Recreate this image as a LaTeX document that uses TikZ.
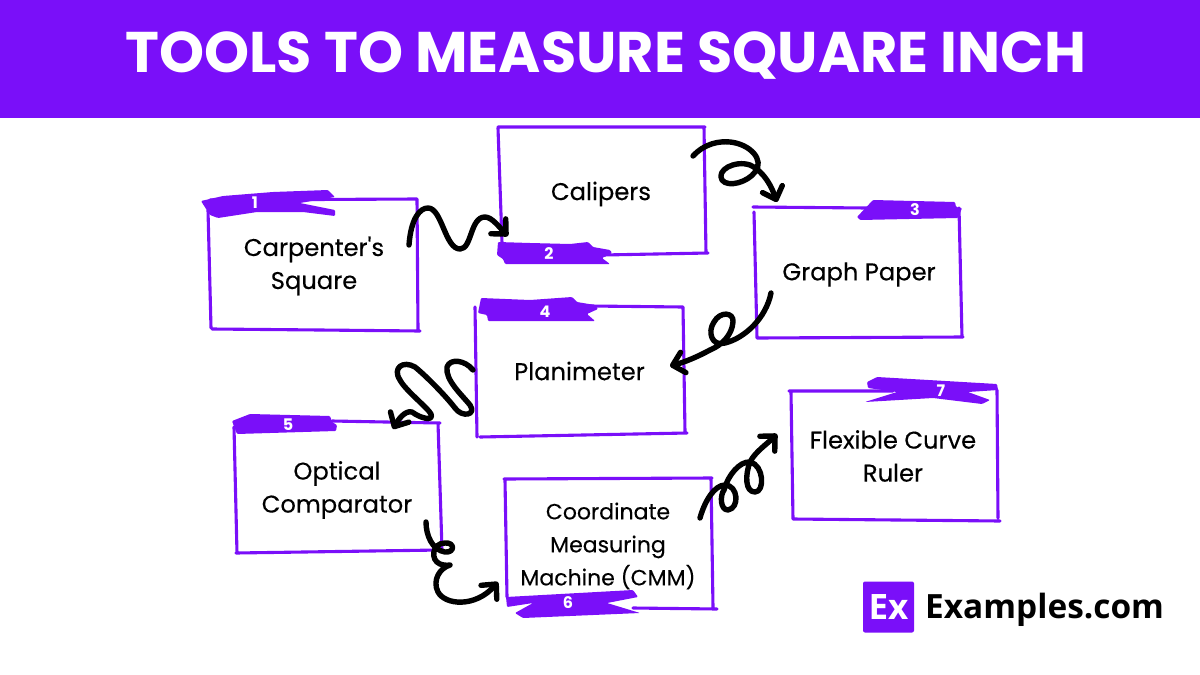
\documentclass[tikz,border=0pt]{standalone}
\usepackage{fontspec}
\setmainfont{Poppins}
\newfontfamily\boxfont{Poppins}[FakeBold=0.25]
\newfontfamily\logofont{Open Sans}
\usetikzlibrary{arrows.meta}
\definecolor{brand}{HTML}{7A0FF9}
\tikzset{
  steptext/.style={inner sep=0pt,align=center,font=\boxfont\fontsize{24.2}{33}\selectfont,text=black},
  sketch/.style={draw=brand,line width=3.1pt},
  brush/.style={fill=brand,rounded corners=1pt},
  stepnum/.style={text=white,font=\fontsize{16}{16}\selectfont\bfseries,inner sep=0pt},
  curl/.style={line width=5.4pt,-{Straight Barb[length=11pt,width=21pt,round]}},
}
\begin{document}
\begin{tikzpicture}[x=1pt,y=-1pt,line cap=round,line join=round]
\useasboundingbox (0,0) rectangle (1200,675);
\fill[brand] (0,0) rectangle (1200,118);
\node (title) at (606,56) [text=white,font=\fontsize{57.3}{58}\selectfont\bfseries,inner sep=0pt] {TOOLS TO MEASURE SQUARE INCH};
% box outlines
\draw[sketch] (210,200)--(417,199) (417,199)--(418,330) (212,329)--(320,330)--(420,331) (208,210)--(211,328);
\draw[sketch] (498,127)--(705,127) (704,127)--(706,253) (603,255)--(708,253) (498,128)--(502,243);
\draw[sketch] (753,207)--(867,208) (959,208)--(962,337) (757,338)--(963,337) (754,212)--(757,338);
\draw[sketch] (590,306)--(683,307) (683,307)--(685,432) (480,437)--(687,433) (475,307)--(477,437);
\draw[sketch] (332,421)--(440,423) (438,423)--(442,550) (236,553)--(440,550) (234,427)--(237,553);
\draw[sketch] (504,479)--(712,478) (711,478)--(713,607) (633,608)--(717,609) (505,480)--(507,597);
\draw[sketch] (789,391)--(893,391) (997,390)--(998,518) (793,519)--(1000,521) (791,392)--(793,519);
% labels
\node[steptext] (carpenter) at (314,266) {Carpenter's\\Square};
\node[steptext] (calipers) at (601,194) {Calipers};
\node[steptext] (graph) at (859,274.5) {Graph Paper};
\node[steptext] (planimeter) at (579.5,371) {Planimeter};
\node[steptext] (optical) at (337,490) {Optical\\Comparator};
\node[steptext,font=\boxfont\fontsize{22}{33}\selectfont] (cmm) at (608,546) {Coordinate\\Measuring\\Machine (CMM)};
\node[steptext] (ruler) at (893,456) {Flexible Curve\\Ruler};
% brush tabs
\fill[brush] (201,201)--(223,196)--(273,192)--(328,190)--(335,197)--(300,203)--(335,210)--(335,216)--(303,212)--(257,212)--(218,218)--(210,215)--cycle;
\fill[brush] (498,242)--(530,243)--(570,244)--(588,242)--(593,247)--(610,250)--(612,253)--(602,258)--(610,264)--(505,264)--(503,259)--(497,255)--cycle;
\fill[brush] (857,217)--(873,200)--(955,202)--(956,207)--(962,208)--(958,218)--(860,220)--cycle;
\fill[brush] (481,298)--(530,300)--(572,297)--(577,302)--(595,305)--(598,309)--(587,314)--(595,321)--(488,321)--(487,315)--(478,313)--(480,303)--cycle;
\fill[brush] (232,421)--(250,414)--(330,416)--(332,422)--(337,425)--(336,431)--(237,434)--cycle;
\fill[brush] (506,597)--(633,590)--(638,597)--(607,603)--(640,613)--(523,618)--(515,613)--(533,603)--(507,607)--cycle;
\fill[brush] (867,382)--(877,377)--(997,384)--(998,390)--(968,392)--(990,400)--(982,404)--(933,398)--(865,402)--(897,392)--(868,388)--cycle;
% numbers
\node[stepnum] (n1) at (255,203) {1};
\node[stepnum] (n2) at (549,254) {2};
\node[stepnum] (n3) at (915,210) {3};
\node[stepnum] (n4) at (545,312) {4};
\node[stepnum] (n5) at (288,425) {5};
\node[stepnum] (n6) at (568,603) {6};
\node[stepnum] (n7) at (941,391) {7};
% connectors
\coordinate (a1) at (409,245);
\coordinate (b1) at (508,236);
\coordinate (a2) at (693,156);
\coordinate (b2) at (777,202);
\coordinate (a3) at (771,293);
\coordinate (b3) at (670,366);
\coordinate (a4) at (473,370);
\coordinate (b4) at (393,429);
\coordinate (a5) at (426,522);
\coordinate (b5) at (498,582);
\coordinate (a6) at (700,518);
\coordinate (b6) at (777,434);
\draw[curl] (a1) .. controls (411,218) and (420,208) .. (428,208)
  .. controls (442,208) and (445,249) .. (460,249)
  .. controls (472,249) and (470,217) .. (485,217)
  .. controls (492,217) and (500,228) .. (b1);
\draw[curl] (a2) .. controls (705,143) and (720,141) .. (730,142)
  .. controls (750,144) and (765,160) .. (755,172)
  .. controls (748,182) and (728,188) .. (722,180)
  .. controls (716,170) and (735,160) .. (750,165)
  .. controls (765,172) and (772,188) .. (b2);
\draw[curl] (a3) .. controls (766,318) and (745,338) .. (725,343)
  .. controls (712,347) and (707,332) .. (714,322)
  .. controls (720,311) and (734,312) .. (733,322)
  .. controls (732,335) and (722,345) .. (710,350)
  .. controls (697,357) and (685,362) .. (b3);
\draw[curl] (a4) .. controls (465,360) and (450,358) .. (447,367)
  .. controls (445,380) and (462,395) .. (470,405)
  .. controls (477,415) and (462,418) .. (455,408)
  .. controls (445,395) and (425,375) .. (415,367)
  .. controls (403,360) and (392,368) .. (400,380)
  .. controls (405,390) and (428,408) .. (431,414)
  .. controls (434,422) and (420,418) .. (412,412)
  .. controls (405,410) and (398,420) .. (b4);
\draw[curl] (a5) .. controls (426,535) and (432,550) .. (445,552)
  .. controls (455,553) and (455,542) .. (445,543)
  .. controls (432,543) and (430,560) .. (440,564)
  .. controls (445,566) and (450,565) .. (450,565)
  .. controls (440,568) and (432,580) .. (438,592)
  .. controls (445,605) and (475,608) .. (b5);
\draw[curl] (a6) .. controls (705,500) and (715,485) .. (725,485)
  .. controls (738,485) and (740,508) .. (728,510)
  .. controls (720,510) and (720,495) .. (724,490)
  .. controls (728,475) and (740,461) .. (750,462)
  .. controls (764,465) and (765,492) .. (755,492)
  .. controls (745,492) and (745,475) .. (750,462)
  .. controls (755,452) and (767,444) .. (b6);
% logo
\node[fill=brand,rounded corners=2pt,minimum size=51pt,inner sep=0pt,text=white,font=\logofont\fontsize{35}{35}\selectfont\bfseries] (logo) at (888.5,607) {Ex};
\node[anchor=west,inner sep=0pt,font=\logofont\fontsize{33.4}{34}\selectfont\bfseries] (site) at (925,610) {Examples.com};
\end{tikzpicture}
\end{document}
